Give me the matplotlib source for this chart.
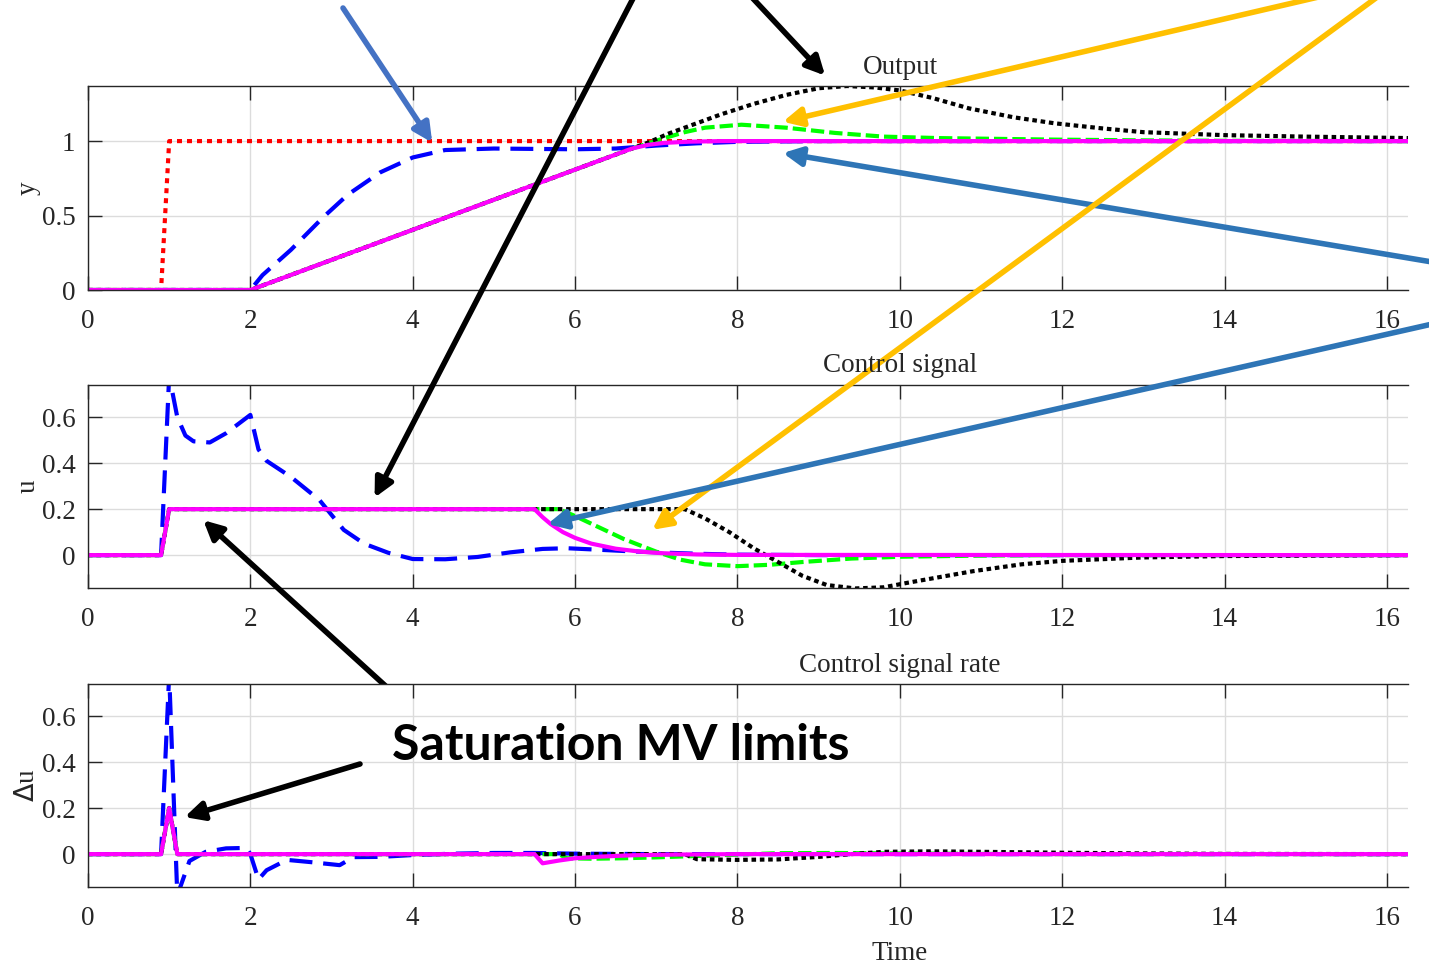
import numpy as np
import matplotlib
matplotlib.use('Agg')
import matplotlib.pyplot as plt

plt.rcParams['font.family'] = 'Liberation Serif'
plt.rcParams['font.size'] = 19.5

# ---- data ----
# output y
t_sp = [0, 0.9, 1.0, 16.3]
y_sp = [0, 0, 1, 1]

t_y_blue = [0, 2.0, 2.15, 2.5, 2.9, 3.2, 3.6, 4.0, 4.4, 5.0, 6.0, 6.5, 7.0, 7.5, 8.0, 9.0, 16.3]
y_blue = [0, 0, 0.1, 0.27, 0.49, 0.64, 0.79, 0.89, 0.94, 0.95, 0.945, 0.95, 0.97, 0.985, 0.995, 1.0, 1.0]

t_y_mag = [0, 2.0, 6.7, 6.9, 7.1, 7.4, 7.8, 16.3]
y_mag = [0, 0, 0.95, 0.975, 0.988, 0.996, 1.0, 1.0]

t_y_green = [0, 2.0, 6.7, 6.9, 7.1, 7.35, 7.6, 8.05, 8.6, 9.2, 9.8, 10.5, 11.9, 13, 14, 16.3]
y_green = [0, 0, 0.95, 0.985, 1.02, 1.06, 1.09, 1.11, 1.09, 1.055, 1.03, 1.02, 1.01, 1.005, 1.002, 1.0]

t_y_black = [0, 2.0, 6.7, 6.9, 7.15, 7.5, 7.8, 8.2, 8.6, 9.0, 9.35, 9.7, 10.0, 10.4, 10.85,
             11.4, 11.9, 12.5, 13, 14, 15, 16.3]
y_black = [0, 0, 0.95, 0.99, 1.05, 1.12, 1.18, 1.25, 1.31, 1.355, 1.37, 1.36, 1.34, 1.29, 1.22,
           1.16, 1.12, 1.085, 1.06, 1.04, 1.03, 1.02]

# control signal u
t_u_mag = [0, 0.9, 1.0, 5.5, 5.6, 5.7, 5.85, 6.0, 6.2, 6.5, 6.8, 7.1, 7.5, 8.0, 16.3]
u_mag = [0, 0, 0.2, 0.2, 0.165, 0.135, 0.1, 0.075, 0.05, 0.028, 0.015, 0.008, 0.003, 0.001, 0]

t_u_green = [0, 0.9, 1.0, 5.8, 6.0, 6.3, 6.6, 7.0, 7.3, 7.6, 8.0, 8.4, 8.8, 9.4, 10, 11, 12, 16.3]
u_green = [0, 0, 0.2, 0.2, 0.17, 0.12, 0.07, 0.015, -0.02, -0.04, -0.048, -0.042, -0.03, -0.015,
           -0.007, -0.002, 0, 0]

t_u_black = [0, 0.9, 1.0, 7.35, 7.6, 7.9, 8.2, 8.5, 8.8, 9.1, 9.45, 9.8, 10.1, 10.5, 10.9, 11.5,
             12, 13, 14, 16.3]
u_black = [0, 0, 0.2, 0.2, 0.16, 0.1, 0.03, -0.03, -0.09, -0.13, -0.145, -0.14, -0.12, -0.095,
           -0.07, -0.04, -0.025, -0.01, -0.004, 0]

t_u_blue = [0, 0.9, 1.0, 1.1, 1.2, 1.3, 1.5, 1.7, 1.85, 2.0, 2.1, 2.2, 2.5, 2.85, 3.15, 3.4, 3.7,
            4.0, 4.4, 4.8, 5.2, 5.6, 5.9, 6.2, 6.6, 7.0, 7.5, 8.0, 9.0, 16.3]
u_blue = [0, 0, 0.78, 0.6, 0.52, 0.495, 0.49, 0.53, 0.57, 0.61, 0.46, 0.41, 0.34, 0.24, 0.11, 0.05,
          0.01, -0.017, -0.018, -0.008, 0.012, 0.027, 0.03, 0.025, 0.018, 0.012, 0.006, 0.002, 0, 0]

# control signal rate du
t_du_mag = [0, 0.9, 1.0, 1.1, 5.5, 5.6, 5.8, 6.0, 6.3, 6.7, 7.2, 8.0, 16.3]
du_mag = [0, 0, 0.2, 0, 0, -0.04, -0.028, -0.018, -0.011, -0.005, -0.002, 0, 0]

t_du_blue = [0, 0.9, 1.0, 1.1, 1.25, 1.45, 1.7, 1.95, 2.0, 2.1, 2.2, 2.45, 2.75, 3.1, 3.27, 3.6,
             4.0, 4.5, 5.0, 5.5, 6.0, 7.0, 16.3]
du_blue = [0, 0, 0.78, -0.18, -0.03, 0.01, 0.025, 0.027, 0.0, -0.11, -0.07, -0.025, -0.035, -0.048,
           -0.013, -0.012, -0.004, 0.002, 0.005, 0.005, 0.002, 0, 0]

t_du_green = [0, 0.9, 1.0, 1.1, 5.8, 5.9, 6.2, 6.6, 7.0, 7.5, 8.0, 8.5, 9.2, 10, 11, 12, 16.3]
du_green = [0, 0, 0.2, 0, 0, -0.018, -0.02, -0.018, -0.014, -0.008, -0.002, 0.004, 0.005, 0.003,
            0.001, 0, 0]

t_du_black = [0, 0.9, 1.0, 1.1, 7.35, 7.5, 8.0, 8.5, 9.0, 9.4, 9.8, 10.4, 11, 12, 13, 14, 16.3]
du_black = [0, 0, 0.2, 0, 0, -0.022, -0.025, -0.023, -0.012, 0.0, 0.01, 0.012, 0.01, 0.006, 0.003,
            0.001, 0]

lw = 3
st_red = dict(color='#ff0000', lw=lw, linestyle=(0, (1.2, 1.2)))
st_blue = dict(color='#0000ff', lw=lw, linestyle=(0, (5.5, 2.6)))
st_green = dict(color='#00ff00', lw=lw, linestyle=(0, (3.2, 1.2)))
st_black = dict(color='black', lw=lw, linestyle=(0, (1.1, 0.9)))
st_mag = dict(color='#ff00ff', lw=lw, linestyle='-')

W, H = 1429, 964
fig = plt.figure(figsize=(W / 100, H / 100), dpi=100)

left = 88 / W
width = (1408 - 88) / W
ax1 = fig.add_axes([left, 1 - 290 / H, width, (290 - 86) / H])
ax2 = fig.add_axes([left, 1 - 588 / H, width, (588 - 385) / H])
ax3 = fig.add_axes([left, 1 - 887 / H, width, (887 - 684) / H])

ax1.plot(t_sp, y_sp, **st_red)
ax1.plot(t_y_blue, y_blue, **st_blue)
ax1.plot(t_y_green, y_green, **st_green)
ax1.plot(t_y_black, y_black, **st_black)
ax1.plot(t_y_mag, y_mag, **st_mag)

ax2.plot(t_u_blue, u_blue, **st_blue)
ax2.plot(t_u_green, u_green, **st_green)
ax2.plot(t_u_black, u_black, **st_black)
ax2.plot(t_u_mag, u_mag, **st_mag)

ax3.plot(t_du_blue, du_blue, **st_blue)
ax3.plot(t_du_green, du_green, **st_green)
ax3.plot(t_du_black, du_black, **st_black)
ax3.plot(t_du_mag, du_mag, **st_mag)

titles = ['Output', 'Control signal', 'Control signal rate']
ylabels = ['y', 'u', r'$\Delta$u']
fs = 19.5
for ax, ttl, yl in zip([ax1, ax2, ax3], titles, ylabels):
    ax.set_xlim(0, 16.26)
    ax.set_xticks(np.arange(0, 17, 2))
    ax.grid(True, color='#dcdcdc', lw=1)
    ax.set_axisbelow(True)
    ax.tick_params(direction='in', length=10, width=1, colors='#262626', labelsize=fs,
                   top=True, right=False)
    ax.tick_params(axis='x', pad=14)
    ax.tick_params(axis='y', pad=9)
    for s in ['left', 'bottom', 'top']:
        ax.spines[s].set_color('#262626')
        ax.spines[s].set_linewidth(1)
    ax.spines['right'].set_visible(False)
    ax.set_title(ttl, x=(900 - 88) / (1408 - 88), fontsize=fs, pad=9, color='#262626')
    ax.set_ylabel(yl, fontsize=fs, color='#262626', labelpad=1)
    for lab in ax.get_xticklabels() + ax.get_yticklabels():
        lab.set_color('#262626')

ax1.set_ylim(0, 1.37)
ax1.set_yticks([0, 0.5, 1])
ax1.set_yticklabels(['0', '0.5', '1'])
for ax in [ax2, ax3]:
    ax.set_ylim(-0.143, 0.74)
    ax.set_yticks([0, 0.2, 0.4, 0.6])
    ax.set_yticklabels(['0', '0.2', '0.4', '0.6'])
ax3.set_xlabel('Time', fontsize=fs, color='#262626')
ax3.xaxis.set_label_coords((900 - 88) / (1408 - 88), -0.265)


def arrow(ax, head, tail_px, color):
    ax.annotate('', xy=head, xycoords='data',
                xytext=(tail_px[0] / W, 1 - tail_px[1] / H), textcoords='figure fraction',
                annotation_clip=False,
                arrowprops=dict(arrowstyle='-|>', color=color, lw=4, mutation_scale=28,
                                shrinkA=0, shrinkB=0))


c_lblue = '#4472c4'
c_blue = '#2e75b6'
c_orange = '#ffc000'
arrow(ax1, (4.24, 0.99), (343, 8), c_lblue)
arrow(ax2, (3.53, 0.25), (640, -15), 'black')
arrow(ax1, (9.08, 1.44), (745, -10), 'black')
arrow(ax1, (8.56, 1.13), (1340, -8), c_orange)
arrow(ax2, (6.95, 0.11), (1380, -5), c_orange)
arrow(ax1, (8.56, 0.92), (1450, 265), c_blue)
arrow(ax2, (5.66, 0.135), (1450, 320), c_blue)
arrow(ax2, (1.42, 0.152), (390, 690), 'black')
arrow(ax3, (1.19, 0.161), (360, 764), 'black')

fig.text(621 / W, 1 - 745 / H, 'Saturation MV limits', fontsize=36, fontweight='bold',
         family='Lato', ha='center', va='center', color='black')

fig.savefig('out.png', dpi=100)
